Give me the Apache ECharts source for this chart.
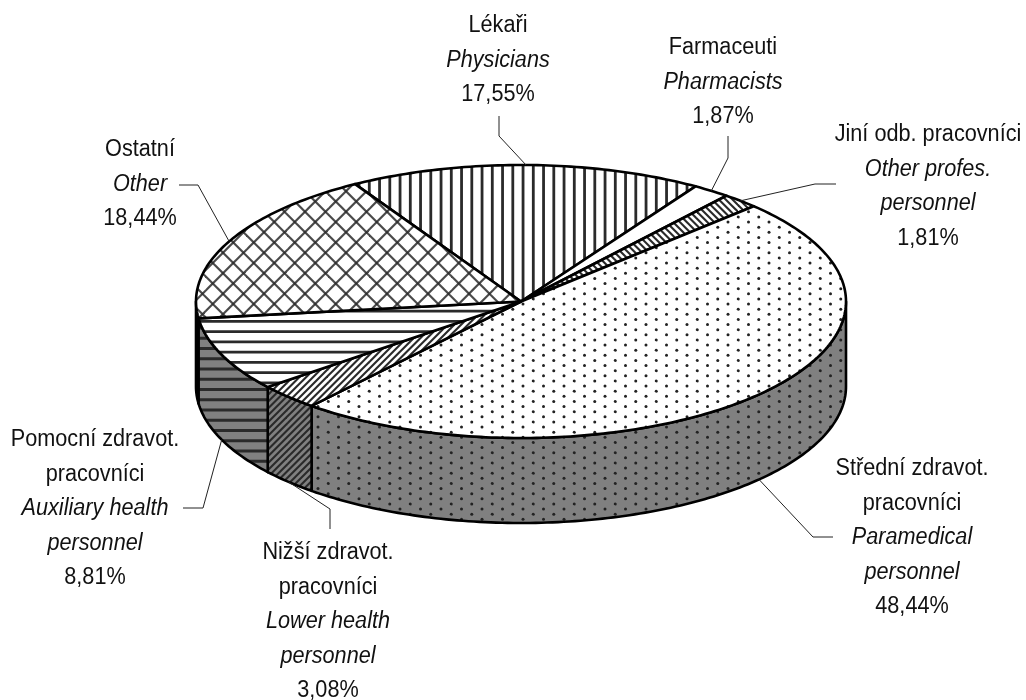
<!DOCTYPE html>
<html>
<head>
<meta charset="utf-8">
<style>
  html, body { margin: 0; padding: 0; background: #fff; }
  #chart { width: 1026px; height: 700px; }
</style>
<script src="https://cdn.jsdelivr.net/npm/echarts@6/dist/echarts.min.js"></script>
</head>
<body>
<div id="chart"></div>
<script>
// values, clockwise from the first slice
const namesCs = ["Lékaři", "Farmaceuti", "Jiní odb. pracovníci", "Střední zdravot.\npracovníci", "Nižší zdravot.\npracovníci", "Pomocní zdravot.\npracovníci", "Ostatní"];
const namesEn = ["Physicians", "Pharmacists", "Other profes.\npersonnel", "Paramedical\npersonnel", "Lower health\npersonnel", "Auxiliary health\npersonnel", "Other"];
const shares = [17.55, 1.87, 1.81, 48.44, 3.08, 8.81, 18.44];

// pie geometry
const cx = 521, cy = 301.5, rx = 325, ry = 136.5, depth = 85;
const startAngle = -30.7;
const fontFamily = '"Liberation Sans", Arial, sans-serif';

// label centre x, first line centre y, then leader line points (last point goes to the slice edge)
const labelPos = [
  { x: 498, y: 26, line: [[499, 116], [499, 136]] },
  { x: 723, y: 48, line: [[728, 136], [728, 158]] },
  { x: 928, y: 135, line: [[836, 184], [815, 184]] },
  { x: 912, y: 469, line: [[833, 537], [813, 537]] },
  { x: 328, y: 553, line: [[330, 529], [330, 509]] },
  { x: 95, y: 440, line: [[183, 508], [203, 508]] },
  { x: 140, y: 150, line: [[179, 185], [198, 185]] }
];

const total = shares.reduce((a, b) => a + b, 0);
const angles = [];
let acc = startAngle;
shares.forEach((v) => {
  angles.push([acc, acc + (v / total) * 360]);
  acc += (v / total) * 360;
});

function pt(deg, dy = 0) {
  const r = (deg * Math.PI) / 180;
  return [cx + rx * Math.sin(r), cy - ry * Math.cos(r) + dy];
}

function arc(a, b, dy = 0) {
  const out = [];
  const n = Math.max(2, Math.ceil(Math.abs(b - a)));
  for (let i = 0; i <= n; i++) out.push(pt(a + ((b - a) * i) / n, dy));
  return out;
}

// hatch tiles, 41px so the 10.25 period repeats cleanly
function tile(bg, dx, dy, draw) {
  const c = document.createElement("canvas");
  c.width = c.height = 41;
  const g = c.getContext("2d");
  g.fillStyle = bg;
  g.fillRect(0, 0, 41, 41);
  g.strokeStyle = "#2a2a2a";
  g.fillStyle = "#222";
  g.translate(dx, dy);
  draw(g);
  return { image: c, repeat: "repeat" };
}
function vLines(g) {
  g.lineWidth = 2.8;
  for (let i = -5; i < 10; i++) {
    g.beginPath(); g.moveTo(i * 10.25, -82); g.lineTo(i * 10.25, 82); g.stroke();
  }
}
function hLines(g) {
  g.lineWidth = 2.8;
  for (let i = -5; i < 10; i++) {
    g.beginPath(); g.moveTo(-82, i * 10.25); g.lineTo(82, i * 10.25); g.stroke();
  }
}
function diag(g, dir, step, w) {
  g.lineWidth = w;
  for (let i = -30; i < 30; i++) {
    g.beginPath();
    g.moveTo(i * step - 82, dir > 0 ? 82 : -82);
    g.lineTo(i * step + 82, dir > 0 ? -82 : 82);
    g.stroke();
  }
}
function dots(g) {
  for (let i = -4; i < 8; i++) {
    for (let j = -8; j < 16; j++) {
      g.beginPath();
      g.arc(i * 20.5 + (j % 2 ? 10.25 : 0), j * 5.125, 1.5, 0, Math.PI * 2);
      g.fill();
    }
  }
}
function cross(g) {
  g.globalAlpha = 0.85;
  diag(g, 1, 20.5, 2.2);
  diag(g, -1, 20.5, 2.2);
}
const stripeStep = 41 / 6;

const topFill = [
  tile("#fff", 0.3, 0, vLines),
  "#fff",
  tile("#fff", 0, 0, (g) => diag(g, -1, stripeStep, 2.1)),
  tile("#fff", 10.5, 6.75, dots),
  tile("#fff", 0, 0, (g) => diag(g, 1, stripeStep, 2.1)),
  tile("#fff", 0, 3.7, hLines),
  tile("#fff", 18, 6.7, cross)
];
const wallBg = "#808080";
const wallFill = [
  wallBg,
  wallBg,
  wallBg,
  tile(wallBg, 10.5, 6.75, dots),
  tile(wallBg, 0, 0, (g) => diag(g, 1, stripeStep, 2.1)),
  tile(wallBg, 0, 0, hLines),
  tile(wallBg, 18, 6.7, cross)
];

function renderWall(params) {
  const i = params.dataIndex;
  // only the front half of the rim shows
  const a = Math.max(angles[i][0], 90);
  const b = Math.min(angles[i][1], 270);
  if (b <= a) return null;
  const points = arc(a, b).concat(arc(b, a, depth));
  return {
    type: "polygon",
    shape: { points },
    style: { fill: wallFill[i], stroke: "#000", lineWidth: 2.6, lineJoin: "round" }
  };
}

function renderTop(params) {
  const i = params.dataIndex;
  const points = [[cx, cy]].concat(arc(angles[i][0], angles[i][1]));
  return {
    type: "polygon",
    shape: { points },
    style: { fill: topFill[i], stroke: "#000", lineWidth: 2.6, lineJoin: "round" }
  };
}

function renderLabel(params, api) {
  const i = params.dataIndex;
  const pos = labelPos[i];
  const mid = (angles[i][0] + angles[i][1]) / 2;
  // leader ends on the rim of the slice, lower edge for the front ones
  const norm = ((mid % 360) + 360) % 360;
  const anchor = pt(mid, norm > 90 && norm < 270 ? depth : 0);
  const lh = 34.4;
  const parts = namesCs[i].split("\n").map((s) => "{n|" + s + "}")
    .concat(namesEn[i].split("\n").map((s) => "{i|" + s + "}"))
    .concat("{n|" + api.value(1).toFixed(2).replace(".", ",") + "%}");
  return {
    type: "group",
    children: [
      {
        type: "polyline",
        shape: { points: pos.line.concat([anchor]) },
        style: { fill: null, stroke: "#222", lineWidth: 1 }
      },
      {
        // the original type is a bit narrower than Liberation, so squeeze it
        type: "text",
        x: pos.x,
        y: pos.y - lh / 2,
        scaleX: 0.93,
        style: {
          x: 0,
          y: 0,
          text: parts.join("\n"),
          align: "center",
          verticalAlign: "top",
          rich: {
            n: { fontFamily, fontSize: 23.3, lineHeight: lh, fill: "#111" },
            i: { fontFamily, fontSize: 23.3, fontStyle: "italic", lineHeight: lh, fill: "#111" }
          }
        }
      }
    ]
  };
}

const seriesData = shares.map((v, i) => [i, v]);
const chart = echarts.init(document.getElementById("chart"), null, { renderer: "canvas" });
chart.setOption({
  animation: false,
  backgroundColor: "#fff",
  series: [
    { type: "custom", coordinateSystem: "none", z: 1, silent: true, data: seriesData, renderItem: renderWall },
    { type: "custom", coordinateSystem: "none", z: 2, silent: true, data: seriesData, renderItem: renderTop },
    { type: "custom", coordinateSystem: "none", z: 3, silent: true, data: seriesData, renderItem: renderLabel }
  ]
});
</script>
</body>
</html>
